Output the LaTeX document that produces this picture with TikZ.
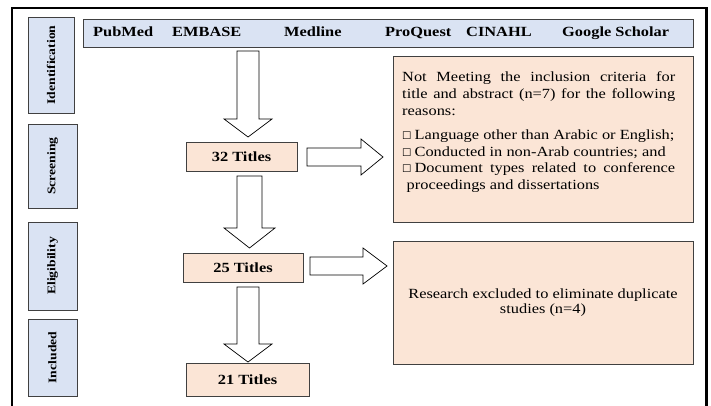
\documentclass[tikz,border=0pt]{standalone}
\usepackage{fontspec}
\setmainfont{Liberation Serif}[FakeStretch=1.17]
\newfontfamily\symfont{DejaVu Sans}
\newcommand{\bx}{{\symfont\fontsize{10.5}{10}\selectfont ☐}\kern3pt}
\definecolor{lblue}{HTML}{DAE3F3}
\definecolor{lpink}{HTML}{FBE5D6}
\definecolor{edge}{HTML}{404040}
\tikzset{
  lbl/.style={draw=edge, fill=lblue, line width=0.9pt, rotate=90, inner sep=0pt,
    font=\fontsize{11.7}{14}\selectfont\bfseries},
  hdr/.style={draw=edge, fill=lblue, line width=0.9pt, inner sep=0pt},
  hdrtxt/.style={anchor=base west, inner sep=0pt, font=\fontsize{14}{16}\selectfont\bfseries},
  titlebox/.style={draw=edge, fill=lpink, line width=0.9pt, inner sep=0pt,
    font=\fontsize{14}{16}\selectfont\bfseries},
  notebox/.style={draw=edge, fill=lpink, line width=0.9pt, inner sep=0pt},
  blockarrow/.style={draw=black, fill=white, line width=0.7pt, line join=miter},
}
\begin{document}
\begin{tikzpicture}[x=1pt,y=-1pt]
\useasboundingbox (0,0) rectangle (711,406);
\fill[white] (0,0) rectangle (711,406);
% outer frame (open at bottom)
\draw[line width=2.5pt] (12,406) -- (12,8) -- (706.5,8) -- (706.5,406);

% stage labels
\node[lbl, minimum width=96pt, minimum height=46pt] (lid) at (51,65) {Identification};
\node[lbl, minimum width=84pt, minimum height=49pt] (lsc) at (52.5,166) {Screening};
\node[lbl, minimum width=88pt, minimum height=49pt] (lel) at (52.5,266) {Eligibility};
\node[lbl, minimum width=77pt, minimum height=49pt] (lin) at (52.5,357.5) {Included};

% database header bar
\node[hdr, minimum width=610pt, minimum height=28pt] (hdr) at (388,33) {};
\node[hdrtxt] (d1) at (93,37) {PubMed};
\node[hdrtxt] (d2) at (172,37) {EMBASE};
\node[hdrtxt] (d3) at (284,37) {Medline};
\node[hdrtxt] (d4) at (385,37) {ProQuest};
\node[hdrtxt] (d5) at (466,37) {CINAHL};
\node[hdrtxt] (d6) at (562,37) {Google Scholar};

% title count boxes
\node[titlebox, minimum width=111pt, minimum height=29pt] (t32) at (241.5,156.5) {32 Titles};
\node[titlebox, minimum width=120pt, minimum height=29pt] (t25) at (243,267.5) {25 Titles};
\node[titlebox, minimum width=123pt, minimum height=33pt] (t21) at (247.5,379.5) {21 Titles};

% exclusion boxes
\node[notebox, minimum width=300pt, minimum height=166pt] (ex1) at (543,139) {};
\node[inner sep=0pt, anchor=base west] (ex1txt) at (402,82) {\parbox[t]{273pt}{%
  \fontsize{14}{16.8}\selectfont\setlength{\parindent}{0pt}%
  \makebox[\linewidth][s]{Not Meeting the inclusion criteria for}\\
  \makebox[\linewidth][s]{title and abstract (n=7) for the following}\\
  reasons:\\[7pt]
  \bx Language other than Arabic or English;\\
  \bx Conducted in non-Arab countries; and\\
  \makebox[\linewidth][s]{\bx Document types related to conference}\\
  \hspace*{4.5pt}proceedings and dissertations}};

\node[notebox, minimum width=300pt, minimum height=123pt, align=center,
  font=\fontsize{14}{15}\selectfont] (ex2) at (543,302.5)
  {Research excluded to eliminate duplicate\\studies (n=4)};

% down block arrows
\draw[blockarrow] (237,51) -- (259,51) -- (259,119) -- (272,119) -- (248,137)
  -- (224,119) -- (237,119) -- cycle;
\draw[blockarrow] (237,176) -- (262,176) -- (262,228) -- (275,228) -- (249.5,248)
  -- (224,228) -- (237,228) -- cycle;
\draw[blockarrow] (237,287) -- (259,287) -- (259,344) -- (272,344) -- (248,362)
  -- (224,344) -- (237,344) -- cycle;

% right block arrows
\draw[blockarrow] (307,148) -- (361,148) -- (361,139) -- (383,157) -- (361,175)
  -- (361,166) -- (307,166) -- cycle;
\draw[blockarrow] (310,257) -- (363,257) -- (363,248) -- (387,266) -- (363,284)
  -- (363,275) -- (310,275) -- cycle;
\end{tikzpicture}
\end{document}
